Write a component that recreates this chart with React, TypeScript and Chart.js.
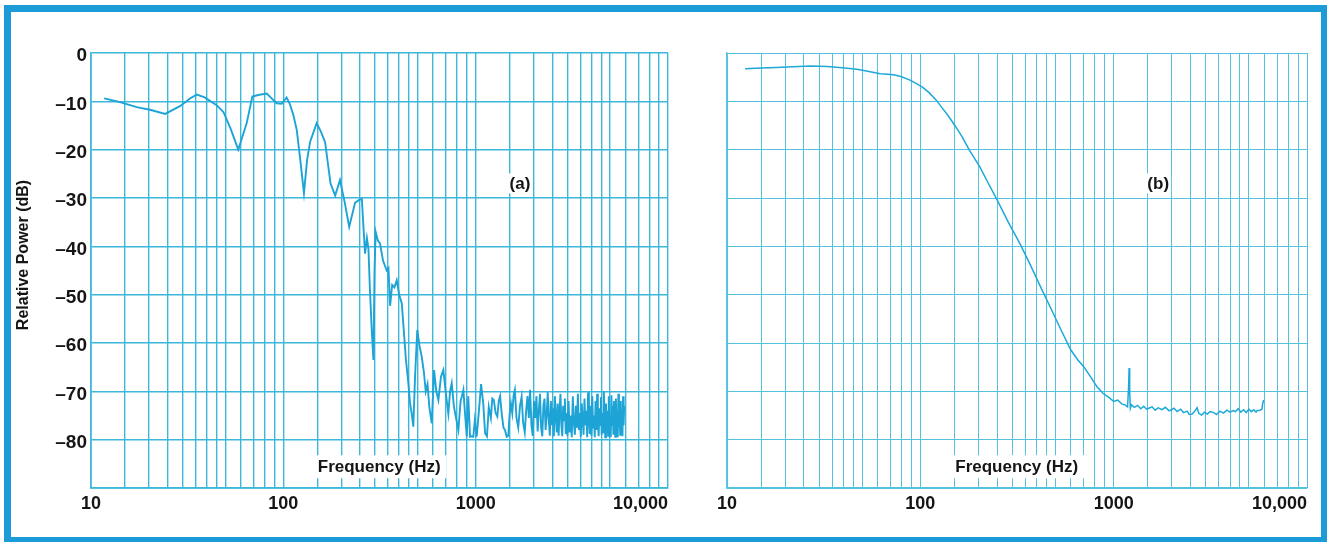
import React, { useEffect, useRef } from 'react';
import { Chart, registerables } from 'chart.js';

Chart.register(...registerables);

const FONT = '"Liberation Sans", Arial, Helvetica, sans-serif';

// vertical grid lines of the log paper
const GRID_X = [
  10, 15, 20, 25, 30, 35, 40, 45, 50, 60, 70, 80, 90,
  100, 150, 200, 250, 300, 350, 400, 450, 500, 600, 700, 800, 900,
  1000, 1500, 2000, 2500, 3000, 3500, 4000, 4500, 5000, 6000, 7000, 8000, 9000, 10000,
];
const X_LABEL_VALUES = [10, 100, 1000, 10000];
const X_LABEL_TEXT = ['10', '100', '1000', '10,000'];
const Y_TICKS = [-90, -80, -70, -60, -50, -40, -30, -20, -10, 0];
const Y_LABELS = ['', '–80', '–70', '–60', '–50', '–40', '–30', '–20', '–10', '0'];
const X_TITLE = 'Frequency (Hz)';
const Y_TITLE = 'Relative Power (dB)';
const PANEL_LABELS = ['(a)', '(b)'];

// (a) measured spectrum: [frequency Hz, relative power dB]
const A_LOW: [number, number][] = [
  [11.7, -9.4], [14, -10.1], [17.3, -11.2], [20.5, -11.8], [24.3, -12.6], [29, -11], [33, -9.3],
  [35.5, -8.6], [39, -9.2], [45, -10.8], [48.8, -12.2], [53, -15.5], [58.3, -20], [64.5, -14.5],
  [69, -9], [74, -8.7], [82, -8.4], [88, -9.6], [92.4, -10.4], [98, -10.5], [104, -9.2],
  [108, -10.5], [112.7, -12.8], [117.4, -15.9], [122, -21.5], [128, -29], [133, -22], [138, -18.3],
  [149, -14.5], [157, -16.3], [165, -18.5], [170, -22.5], [176, -27], [186, -29.5], [197, -26.3],
  [209, -31.1], [220, -36], [236, -31], [248, -30.4], [256, -30.2], [261, -36], [266, -41.5],
  [272, -38.3], [277, -40.5], [282, -49], [288, -57], [294, -63.5], [298, -45], [302, -37],
  [310, -38.8], [318, -39.4], [330, -43], [345, -45], [352, -44.5], [359, -52.3], [368, -48],
  [378, -48.5], [389, -47], [400, -50], [413, -51.8], [424, -58], [434, -63.5], [446, -68],
  [456, -72.5], [465, -74.6], [474, -77.3], [484, -67], [497, -57.3], [510, -60.5], [524, -62.8],
  [538, -66], [550, -70], [562, -68.5], [575, -73.5], [591, -76.6], [608, -65.6], [624, -70],
  [640, -71.8], [660, -67], [679, -65.6], [700, -70.5], [721, -74.6], [736, -70], [751, -68.3],
  [770, -73], [790, -75.5], [813, -78], [835, -72], [848, -71], [863, -69.7], [880, -74.5],
  [899, -79.4], [915, -71], [935, -79.4], [953, -79.3], [972, -79.4], [990, -76],
];

const A_HIGH: [number, number][] = [
  [1012, -79.4], [1040, -74], [1067, -68.5], [1095, -72.5], [1120, -78.7], [1145, -79.3],
  [1170, -73.2], [1200, -75.5], [1220, -71.5], [1243, -71.8], [1270, -74.5], [1296, -75.2],
  [1318, -72], [1340, -71], [1365, -74.5], [1395, -77.5], [1420, -78], [1450, -79.4],
  [1478, -79.2], [1500, -75], [1525, -72.5], [1550, -74.5], [1575, -70.8], [1599, -69.7],
  [1630, -75.5], [1665, -77.5], [1700, -73], [1734, -71.1], [1765, -76.5], [1800, -78.5],
  [1830, -74], [1860, -71], [1890, -75.5], [1918, -69.7], [1950, -77], [1980, -79.2],
  [2010, -72], [2040, -75.5], [2070, -71], [2100, -78.3], [2130, -74], [2160, -70.5],
  [2190, -77.5], [2220, -79.3], [2250, -73], [2280, -71.5], [2310, -78], [2340, -75],
  [2370, -70.2], [2400, -76], [2430, -79.2], [2460, -72], [2490, -77], [2520, -73.5],
  [2550, -79.3], [2580, -71], [2610, -75], [2640, -78.5], [2670, -72.5], [2700, -79.2],
  [2730, -74], [2760, -70.5], [2790, -77], [2820, -79.3], [2850, -73], [2880, -76],
  [2910, -71.5], [2940, -78.8], [2970, -74.5], [3000, -79.2],
  [3040, -72], [3080, -78.5], [3120, -75], [3160, -79.5], [3200, -71], [3240, -76.5],
  [3280, -79], [3320, -73], [3360, -77.5], [3400, -70.5], [3440, -78], [3480, -74.5],
  [3520, -79.4], [3560, -72.5], [3600, -76], [3640, -79], [3680, -71.5], [3720, -77],
  [3760, -74], [3800, -79.5], [3840, -70.2], [3880, -75.5], [3920, -78.8], [3960, -73],
  [4000, -79.2], [4040, -71], [4080, -77.5], [4120, -75], [4160, -79.5], [4200, -72],
  [4240, -78], [4280, -70.5], [4320, -76.5], [4360, -79.3], [4400, -73.5], [4440, -77],
  [4480, -71.2], [4520, -79], [4560, -74.5], [4600, -78.5], [4640, -70], [4680, -76],
  [4720, -79.5], [4760, -72.5], [4800, -77.5], [4840, -74], [4880, -79.2], [4920, -71],
  [4960, -78], [5000, -75.5], [5040, -79.5], [5080, -70.8], [5120, -77], [5160, -73],
  [5200, -79], [5240, -72], [5280, -76.5], [5320, -79.4], [5360, -71.5], [5400, -78],
  [5440, -74], [5480, -79.5], [5520, -70.5], [5560, -77.5], [5600, -73.5], [5640, -79],
  [5680, -72], [5720, -78.5], [5760, -75], [5800, -79.3], [5840, -71], [5880, -77], [5920, -73],
];

// (b) smoothed response
const B_CURVE: [number, number][] = [
  [12.4, -3.25], [15, -3.1], [18, -3.0], [22, -2.85], [27, -2.7], [33, -2.8], [40.8, -3.1],
  [48, -3.4], [55, -3.9], [62, -4.3], [68, -4.4], [74, -4.55], [80, -4.9], [88.4, -5.6],
  [95, -6.3], [103, -7.1], [111, -8.2], [120.5, -9.7], [130, -11.4], [140.6, -13.2], [152, -15.2],
  [164.3, -17.3], [180, -20.2], [202.8, -23.5], [225, -27], [249.5, -30.4], [285, -35],
  [328, -39.5], [370, -43.8], [420, -48.5], [469, -52.5], [530, -57], [599.5, -61.4],
  [650, -63.4], [700, -64.9], [760, -67], [818, -69], [880, -70.4], [955, -71.4], [1000, -72.1],
  [1050, -71.8], [1100, -72.6], [1143, -72.8], [1180, -73.2], [1195, -69], [1202, -65.2],
  [1210, -70], [1220, -73.5], [1237, -72.8], [1280, -73.3], [1330, -72.9], [1380, -73.6],
  [1430, -73.1], [1480, -73.7], [1520, -73.5], [1580, -73.2], [1640, -73.9], [1700, -73.4],
  [1780, -73.8], [1850, -73.3], [1930, -74], [1968, -73.9], [2050, -73.5], [2130, -74.2],
  [2220, -73.7], [2300, -74.4], [2400, -74.1], [2460, -74.8], [2546, -74.7], [2620, -74.2],
  [2700, -73.4], [2760, -74.6], [2850, -74.9], [2950, -74.3], [3050, -74.7], [3150, -74.2],
  [3297, -74.4], [3400, -74.8], [3550, -74.1], [3700, -74.5], [3850, -73.9], [4000, -74.3],
  [4150, -74], [4266, -74.2], [4400, -73.6], [4550, -74.3], [4700, -73.8], [4850, -74.4],
  [5000, -73.7], [5150, -74.2], [5300, -73.8], [5450, -74.3], [5520, -74], [5700, -73.9],
  [5850, -73.7], [5900, -72.5], [5970, -71.8],
];

type PanelOpts = {
  points: [number, number][];
  lineColor: string;
  lineWidth: number;
  gridColor: string;
  gridWidth: number;
  yLabels: boolean;
  yAxisWidth: number;
  padRight: number;
  panelLabel: string;
};

function overlayPlugin(o: PanelOpts) {
  return {
    id: 'overlay',
    afterDatasetsDraw(chart: any) {
      const { ctx, chartArea: ca, scales } = chart;
      const xs = scales.x;
      const ys = scales.y;
      ctx.save();
      // axis title with white patch over the grid
      ctx.font = `bold 17px ${FONT}`;
      const fx = xs.getPixelForValue(315);
      const fy = ys.getPixelForValue(-85.5);
      const w = ctx.measureText(X_TITLE).width;
      ctx.fillStyle = '#ffffff';
      ctx.fillRect(fx - w / 2 - 6, fy - 11, w + 12, 23);
      ctx.fillStyle = '#151515';
      ctx.textAlign = 'center';
      ctx.textBaseline = 'middle';
      ctx.fillText(X_TITLE, fx, fy + 1);
      // panel label
      ctx.font = `bold 17px ${FONT}`;
      const px = xs.getPixelForValue(1700);
      const py = ys.getPixelForValue(-27);
      const pw = ctx.measureText(o.panelLabel).width;
      ctx.fillStyle = '#ffffff';
      ctx.fillRect(px - pw / 2 - 2, py - 10, pw + 4, 20);
      ctx.fillStyle = '#151515';
      ctx.fillText(o.panelLabel, px, py + 1);
      // x tick labels
      ctx.font = `bold 18px ${FONT}`;
      X_LABEL_VALUES.forEach((v, i) => {
        const last = i === X_LABEL_VALUES.length - 1;
        const lx = last ? ca.right : xs.getPixelForValue(v);
        ctx.textAlign = last ? 'right' : 'center';
        ctx.fillText(X_LABEL_TEXT[i], lx, ca.bottom + 16);
      });
      // y title
      if (o.yLabels) {
        ctx.font = `bold 16px ${FONT}`;
        ctx.translate(24, 255);
        ctx.rotate(-Math.PI / 2);
        ctx.textAlign = 'center';
        ctx.textBaseline = 'middle';
        ctx.fillText(Y_TITLE, 0, 0);
      }
      ctx.restore();
    },
  };
}

function makeChart(canvas: HTMLCanvasElement, o: PanelOpts) {
  return new Chart(canvas, {
    type: 'line',
    data: {
      datasets: [
        {
          data: o.points.map(([x, y]) => ({ x, y })),
          borderColor: o.lineColor,
          borderWidth: o.lineWidth,
          pointRadius: 0,
          tension: 0,
          fill: false,
        },
      ],
    },
    options: {
      animation: false,
      responsive: false,
      maintainAspectRatio: false,
      devicePixelRatio: 1,
      layout: { padding: { left: 0, top: 53, right: o.padRight, bottom: 0 } },
      plugins: { legend: { display: false }, tooltip: { enabled: false } },
      scales: {
        x: {
          type: 'logarithmic',
          min: 10,
          max: 10000,
          afterBuildTicks: (s: any) => {
            s.ticks = GRID_X.map((v) => ({ value: v }));
          },
          afterFit: (s: any) => {
            s.height = 54;
          },
          ticks: { display: false },
          grid: { color: o.gridColor, lineWidth: o.gridWidth, drawTicks: false },
          border: { color: o.gridColor, width: o.gridWidth + 0.3 },
        },
        y: {
          type: 'linear',
          min: -90,
          max: 0,
          afterBuildTicks: (s: any) => {
            s.ticks = Y_TICKS.map((v) => ({ value: v }));
          },
          afterFit: (s: any) => {
            s.width = o.yAxisWidth;
          },
          ticks: {
            display: o.yLabels,
            padding: 4,
            labelOffset: 3,
            color: '#151515',
            font: { family: FONT, size: 19, weight: 'bold' },
            callback: (v: any) => {
              const i = Y_TICKS.indexOf(Number(v));
              return i >= 0 ? Y_LABELS[i] : '';
            },
          },
          grid: { color: o.gridColor, lineWidth: o.gridWidth, drawTicks: false },
          border: { color: o.gridColor, width: o.gridWidth + 0.3 },
        },
      },
    },
    plugins: [overlayPlugin(o)],
  } as any);
}

export default function App() {
  const refA = useRef<HTMLCanvasElement>(null);
  const refB = useRef<HTMLCanvasElement>(null);

  useEffect(() => {
    const a = makeChart(refA.current!, {
      points: [...A_LOW, ...A_HIGH],
      lineColor: '#1ea3d6',
      lineWidth: 1.9,
      gridColor: '#3db8da',
      gridWidth: 1.4,
      yLabels: true,
      yAxisWidth: 91,
      padRight: 32,
      panelLabel: PANEL_LABELS[0],
    });
    const b = makeChart(refB.current!, {
      points: B_CURVE,
      lineColor: '#1ea8d8',
      lineWidth: 1.5,
      gridColor: '#55c3df',
      gridWidth: 1,
      yLabels: false,
      yAxisWidth: 27,
      padRight: 20,
      panelLabel: PANEL_LABELS[1],
    });
    return () => {
      a.destroy();
      b.destroy();
    };
  }, []);

  return (
    <div
      style={{
        position: 'fixed',
        left: 0,
        top: 0,
        width: 1327,
        height: 542,
        background: '#ffffff',
        overflow: 'hidden',
      }}
    >
      <canvas
        ref={refA}
        width={700}
        height={542}
        style={{ position: 'absolute', left: 0, top: 0, width: 700, height: 542 }}
      />
      <canvas
        ref={refB}
        width={627}
        height={542}
        style={{ position: 'absolute', left: 700, top: 0, width: 627, height: 542 }}
      />
      <div
        style={{
          position: 'absolute',
          left: 4,
          top: 5,
          width: 1327 - 4,
          height: 542 - 5,
          boxSizing: 'border-box',
          borderStyle: 'solid',
          borderColor: '#1b9bd7',
          borderWidth: '7px 6px 5px 7px',
          pointerEvents: 'none',
        }}
      />
    </div>
  );
}
